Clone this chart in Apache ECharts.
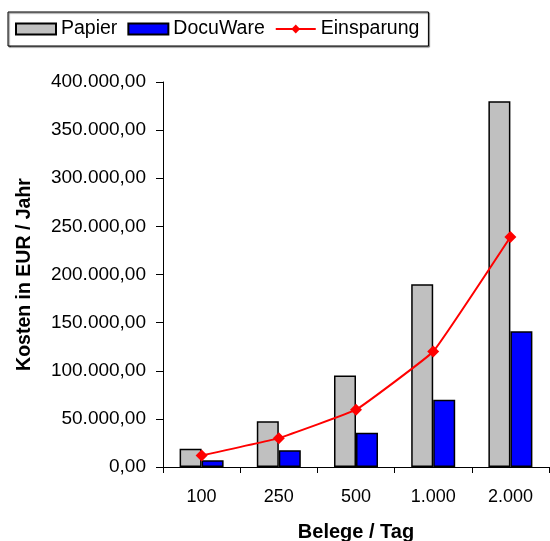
<!DOCTYPE html>
<html><head><meta charset="utf-8">
<script src="https://cdn.jsdelivr.net/npm/echarts@6/dist/echarts.min.js"></script>
<style>html,body{margin:0;padding:0;background:#fff}#c{width:550px;height:541px}</style>
</head><body><div id="c"></div>
<script>
const categories = ['100', '250', '500', '1.000', '2.000'];
const papier = [19000, 47500, 95000, 190000, 380000];
const docuware = [7000, 17500, 35500, 70000, 141000];
const einsparung = [12000, 30000, 59500, 120000, 239000];
const yTicks = { min: 0, max: 400000, interval: 50000 };

function deFmt(v) {
  const s = Math.round(v).toString().replace(/\B(?=(\d{3})+(?!\d))/g, '.');
  return s + ',00';
}
const font = 'Liberation Sans, Arial, sans-serif';
const chart = echarts.init(document.getElementById('c'));
chart.setOption({
  animation: false,
  backgroundColor: '#fff',
  textStyle: { fontFamily: font, color: '#000' },
  legend: {
    left: 8, top: 12,
    padding: [7, 9, 7, 7],
    itemGap: 10,
    itemWidth: 40, itemHeight: 11,
    borderColor: '#000', borderWidth: 1,
    backgroundColor: '#fff',
    shadowColor: 'rgba(0,0,0,0.6)', shadowOffsetX: 1, shadowOffsetY: 1, shadowBlur: 1,
    textStyle: { fontSize: 19.5, fontFamily: font, color: '#000' },
    data: [{ name: 'Papier', icon: 'rect' }, { name: 'DocuWare', icon: 'rect' }, { name: 'Einsparung' }]
  },
  grid: { left: 163, right: 1, top: 82, bottom: 74, outerBoundsMode: 'none', containLabel: false },
  xAxis: {
    type: 'category', data: categories,
    axisLine: { lineStyle: { color: '#000', width: 1 } },
    axisTick: { show: true, length: 6, lineStyle: { color: '#000' } },
    axisLabel: { fontSize: 18, color: '#000', margin: 21, fontFamily: font },
    name: 'Belege / Tag', nameLocation: 'middle', nameGap: 55,
    nameTextStyle: { fontSize: 20, fontWeight: 'bold', color: '#000', fontFamily: font }
  },
  yAxis: {
    type: 'value', min: yTicks.min, max: yTicks.max, interval: yTicks.interval,
    splitLine: { show: false },
    axisLine: { show: true, lineStyle: { color: '#000', width: 1 } },
    axisTick: { show: true, length: 7, lineStyle: { color: '#000' } },
    axisLabel: { fontSize: 19, color: '#000', margin: 17, formatter: deFmt, fontFamily: font },
    name: 'Kosten in EUR / Jahr', nameLocation: 'middle', nameGap: 128,
    nameTextStyle: { fontSize: 19.5, fontWeight: 'bold', color: '#000', fontFamily: font }
  },
  series: [
    { name: 'Papier', type: 'bar', data: papier, barGap: '0%', barCategoryGap: '43%',
      itemStyle: { color: '#C0C0C0', borderColor: '#000', borderWidth: 1.5 } },
    { name: 'DocuWare', type: 'bar', data: docuware,
      itemStyle: { color: '#0000FF', borderColor: '#000', borderWidth: 1.5 } },
    { name: 'Einsparung', type: 'line', data: einsparung, smooth: 0.08, z: 5,
      symbol: 'diamond', symbolSize: 12,
      lineStyle: { color: '#FF0000', width: 2 },
      itemStyle: { color: '#FF0000' } }
  ]
});
</script></body></html>
